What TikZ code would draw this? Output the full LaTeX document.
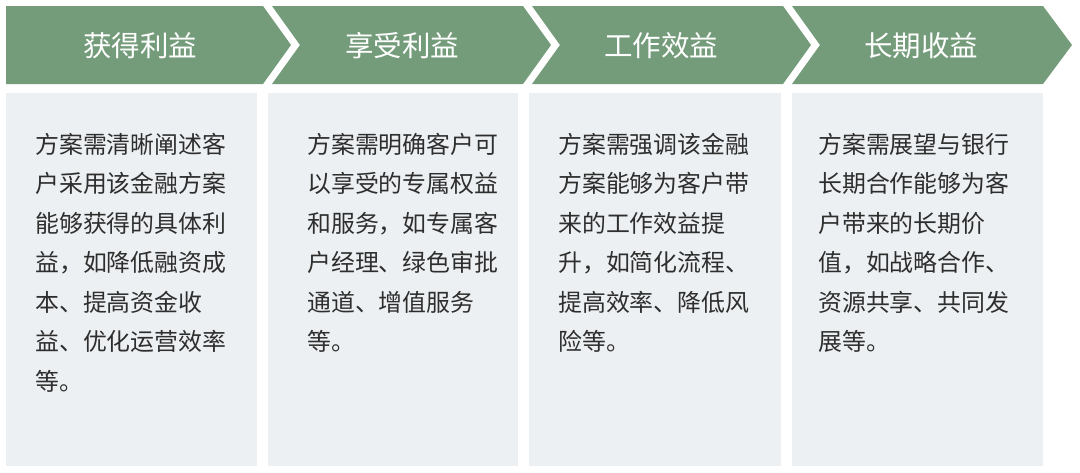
\documentclass[tikz,border=0pt]{standalone}
\usepackage{fontspec}
\setmainfont{Noto Sans CJK SC}
\definecolor{chevgreen}{HTML}{749C7B}
\definecolor{boxgray}{HTML}{EDF0F2}
\definecolor{bodytext}{HTML}{2E2E2E}
\begin{document}
\begin{tikzpicture}[x=1pt,y=-1pt,
  chev/.style={fill=chevgreen,draw=none},
  panel/.style={fill=boxgray,draw=none},
  title/.style={text=white,font=\fontsize{28.5}{32}\selectfont,inner sep=0pt,anchor=center},
  body/.style={text=bodytext,font=\fontsize{23.9}{39.5}\selectfont,align=left,inner sep=0pt,anchor=north west}]
\useasboundingbox (0,0) rectangle (1080,472);
\fill[white] (0,0) rectangle (1080,472);
% chevrons
\fill[chev] (6,6) -- (263,6) -- (291,45) -- (263,84) -- (6,84) -- cycle;
\fill[chev] (272,6) -- (523,6) -- (551,45) -- (523,84) -- (272,84) -- (300,45) -- cycle;
\fill[chev] (532,6) -- (783,6) -- (811,45) -- (783,84) -- (532,84) -- (560,45) -- cycle;
\fill[chev] (792,6) -- (1043,6) -- (1072,45) -- (1043,84) -- (792,84) -- (820,45) -- cycle;
% titles
\node[title] (t1) at (140,46) {获得利益};
\node[title] (t2) at (402,46) {享受利益};
\node[title] (t3) at (661,46) {工作效益};
\node[title] (t4) at (921,46) {长期收益};
% panels
\fill[panel] (6,93) rectangle (257,466);
\fill[panel] (268,93) rectangle (518,466);
\fill[panel] (529,93) rectangle (781,466);
\fill[panel] (792,93) rectangle (1043,466);
% body texts
\node[body] (b1) at (35,133) {方案需清晰阐述客\\户采用该金融方案\\能够获得的具体利\\益，如降低融资成\\本、提高资金收\\益、优化运营效率\\等。};
\node[body] (b2) at (307,133) {方案需明确客户可\\以享受的专属权益\\和服务，如专属客\\户经理、绿色审批\\通道、增值服务\\等。};
\node[body] (b3) at (558,133) {方案需强调该金融\\方案能够为客户带\\来的工作效益提\\升，如简化流程、\\提高效率、降低风\\险等。};
\node[body] (b4) at (818,133) {方案需展望与银行\\长期合作能够为客\\户带来的长期价\\值，如战略合作、\\资源共享、共同发\\展等。};
\end{tikzpicture}
\end{document}
